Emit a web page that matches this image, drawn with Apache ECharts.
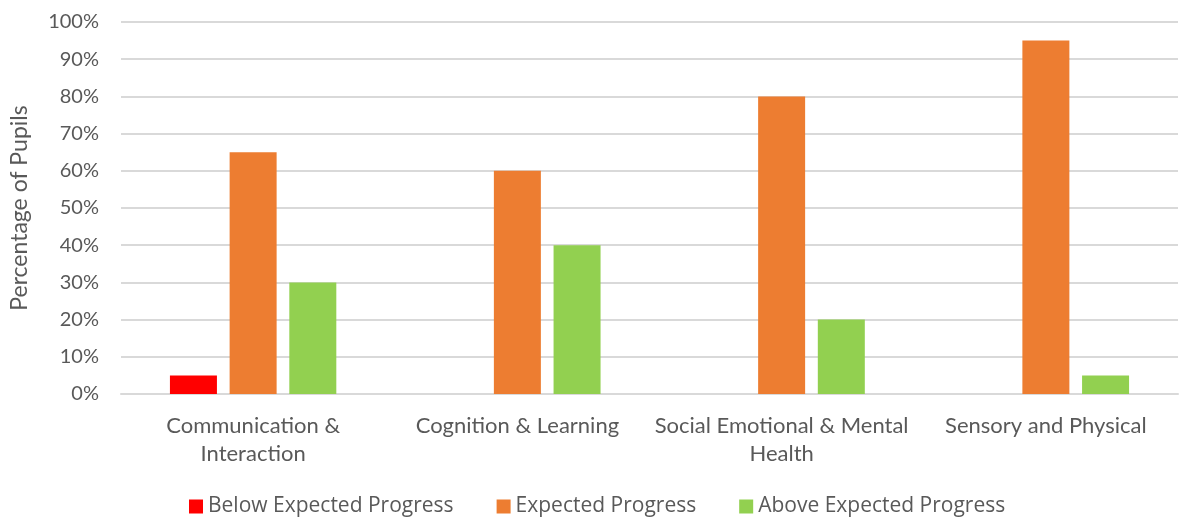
<!DOCTYPE html>
<html><head><meta charset="utf-8">
<script src="https://cdn.jsdelivr.net/npm/echarts@6/dist/echarts.min.js"></script>
<style>html,body{margin:0;padding:0;background:#fff}#c{width:1180px;height:520px}</style>
</head><body><div id="c"></div>
<script>
const categories = ['Communication &\nInteraction', 'Cognition & Learning', 'Social Emotional & Mental\nHealth', 'Sensory and Physical'];
const below = [5, 0, 0, 0];
const expected = [65, 60, 80, 95];
const above = [30, 40, 20, 5];
const seriesNames = ['Below Expected Progress', 'Expected Progress', 'Above Expected Progress'];
const colors = ['#ff0000', '#ed7d31', '#92d050'];

const font = 'Lato, "Open Sans", sans-serif';
const chart = echarts.init(document.getElementById('c'));
chart.setOption({
  animation: false,
  color: colors,
  grid: {left: 118, right: 2, top: 22, bottom: 126},
  legend: {
    bottom: -2, left: 184, itemWidth: 14, itemHeight: 14, itemGap: 43,
    icon: 'rect',
    textStyle: {color: '#595959', fontSize: 21, fontFamily: '"Open Sans", sans-serif'}
  },
  xAxis: {
    type: 'category', data: categories,
    axisLine: {lineStyle: {color: '#d9d9d9', width: 2}},
    axisTick: {show: false},
    axisLabel: {color: '#595959', fontSize: 22, fontFamily: font, lineHeight: 28, margin: 18, interval: 0}
  },
  yAxis: {
    type: 'value', min: 0, max: 100, interval: 10,
    name: 'Percentage of Pupils', nameLocation: 'middle', nameGap: 90, nameRotate: 90,
    nameTextStyle: {color: '#595959', fontSize: 23, fontFamily: font},
    axisLine: {show: false}, axisTick: {show: false},
    axisLabel: {color: '#595959', fontSize: 20, fontFamily: font, formatter: '{value}%', margin: 22},
    splitLine: {lineStyle: {color: '#d9d9d9', width: 2}}
  },
  series: [
    {name: seriesNames[0], type: 'bar', data: below, barWidth: 47, barGap: '27%'},
    {name: seriesNames[1], type: 'bar', data: expected, barWidth: 47, barGap: '27%'},
    {name: seriesNames[2], type: 'bar', data: above, barWidth: 47, barGap: '27%'}
  ]
});
</script></body></html>
